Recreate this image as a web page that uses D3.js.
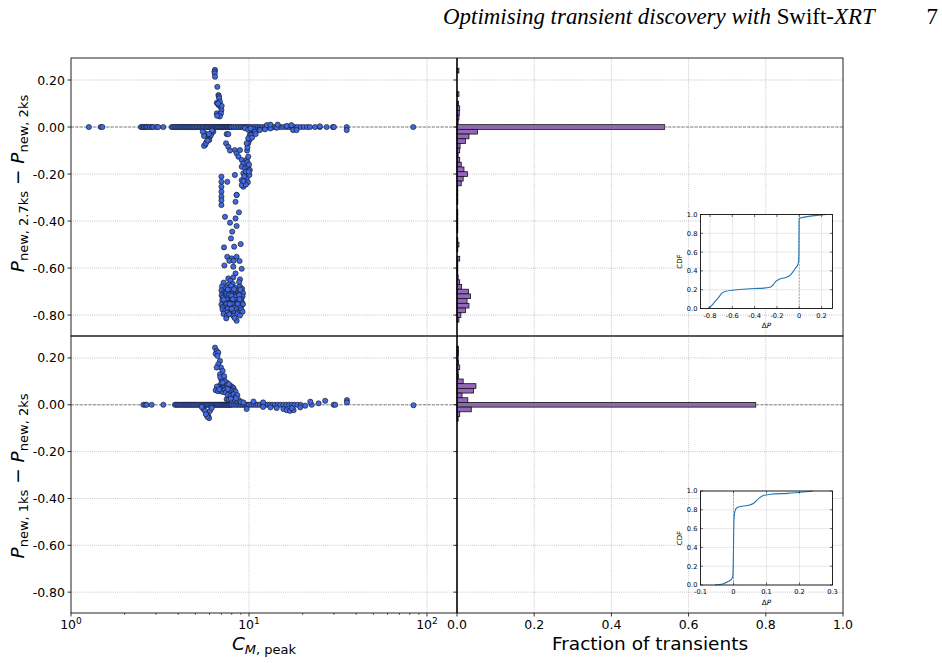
<!DOCTYPE html>
<html><head><meta charset="utf-8">
<script src="https://cdn.jsdelivr.net/npm/d3@7"></script>
<style>
body{margin:0;background:#fff}
svg{display:block}
text{font-family:"DejaVu Sans",sans-serif;fill:#000}
</style>
</head><body>
<svg id="c" width="942" height="663"></svg>
<script>
// ---------------- DATA ----------------
// Panel A: P_new,2.7ks - P_new,2ks ; Panel B: P_new,1ks - P_new,2ks
// Peak count rates of sources lying on ΔP = 0
const topZeroC = [1.26,1.47,1.50,2.47,2.52,2.57,2.62,2.66,2.72,2.78,2.85,2.90,3.02,3.09,3.30,
 3.68,3.75,3.82,3.9,3.98,4.05,4.12,4.2,4.28,4.35,4.43,4.5,4.58,4.66,4.75,4.83,4.92,5.0,5.1,5.2,5.3,5.4,5.5,5.6,5.7,5.8,5.9,
 6.0,6.1,6.2,6.3,6.4,6.5,6.6,6.7,6.8,6.9,7.0,7.1,7.2,7.3,7.4,7.5,7.6,7.7,7.8,7.9,8.0,8.2,8.4,8.6,8.8,9.0,9.2,9.4,9.6,9.8,
 10.0,10.3,10.6,10.9,11.2,11.5,11.9,12.3,12.7,13.1,13.5,14.0,14.5,15.0,15.6,16.2,16.8,17.4,18.0,18.7,19.5,20.3,21.2,22.0,
 23.5,25.0,27.3,29.6,30.0,35.4,83.7];
// [C_peak, ΔP] for the other sources
const topPoints = [
 [6.44,0.243],[6.40,0.236],[6.42,0.228],[6.44,0.214],[6.64,0.171],[6.73,0.136],[6.78,0.13],[6.80,0.122],[6.59,0.103],
 [6.87,0.108],[6.73,0.094],[6.92,0.086],[7.0,0.072],[6.59,0.058],[6.80,0.051],[6.96,0.058],[6.85,0.045],[6.62,0.048],[7.02,0.09],[6.7,0.1],
 [5.66,-0.027],[5.59,-0.038],[5.9,-0.048],[5.78,-0.063],[5.66,-0.077],[6.03,-0.041],[6.16,-0.027],[5.98,-0.055],[6.30,-0.02],
 [5.59,-0.08],[5.72,-0.07],[5.85,-0.058],[6.1,-0.035],[6.2,-0.015],[5.5,-0.02],[5.95,-0.03],
 [7.49,-0.030],[7.65,-0.030],[7.43,-0.069],[7.65,-0.084],[7.82,-0.10],[8.33,-0.098],[8.52,-0.112],[8.9,-0.098],[8.72,-0.126],
 [9.1,-0.14],[9.29,-0.155],[9.70,-0.14],[9.9,-0.126],[9.1,-0.169],[9.5,-0.176],[9.9,-0.169],[9.29,-0.197],[9.7,-0.204],
 [9.1,-0.226],[9.5,-0.233],[9.29,-0.254],[9.1,-0.247],[9.7,-0.218],[10.05,-0.204],[10.1,-0.183],[8.33,-0.204],[8.52,-0.289],
 [7.0,-0.211],[7.0,-0.233],[7.0,-0.254],[7.0,-0.275],[7.0,-0.296],[7.55,-0.233],[9.6,-0.19],[9.8,-0.15],[9.4,-0.21],
 [9.85,-0.235],[9.6,-0.245],[9.3,-0.23],[9.95,-0.19],[10.0,-0.16],[9.75,-0.1],
 [10.3,-0.02],[10.1,-0.034],[10.05,-0.055],[9.9,-0.069],[10.6,-0.027],[11.0,-0.014],[11.5,-0.01],[10.6,-0.01],[9.8,-0.087],
 [9.7,-0.069],[9.9,-0.048],[10.3,-0.034],[10.8,-0.020],[11.5,-0.013],[12.3,-0.01],[13.2,-0.006],[14.3,-0.003],[12.6,0.008],
 [13.2,0.01],[14.5,0.01],[16.3,0.005],[17.3,0.008],[17.7,-0.013],[18.5,-0.013],[25,0.003],[35.4,-0.013],[9.5,-0.005],
 [9.9,-0.012],[10.2,-0.006],[10.4,-0.045],[10.9,-0.03],
 [7.0,-0.312],[7.0,-0.332],[8.52,-0.289],[8.4,-0.318],[7.33,-0.382],[7.82,-0.407],[8.4,-0.389],[8.78,-0.363],[8.52,-0.421],
 [8.05,-0.445],[7.92,-0.474],[8.98,-0.498],[8.25,-0.509],[7.24,-0.512],[7.55,-0.552],[8.0,-0.559],[8.52,-0.552],[7.75,-0.569],
 [8.2,-0.569],[8.85,-0.570],[7.27,-0.589],[8.16,-0.594],[9.1,-0.603],[8.4,-0.623],[7.65,-0.644],[8.16,-0.64],[8.9,-0.648],[7.87,-0.654],
 [7.2,-0.662],[8.1,-0.667],[8.8,-0.66],[7.7,-0.67],
 [7.05,-0.678],[7.5,-0.683],[7.95,-0.676],[8.45,-0.685],[8.9,-0.679],[9.15,-0.688],[7.3,-0.69],
 [7.0,-0.695],[7.25,-0.703],[7.5,-0.698],[7.7,-0.706],[7.9,-0.694],[8.15,-0.701],[8.35,-0.709],[8.6,-0.697],[8.8,-0.704],
 [9.05,-0.699],[9.25,-0.707],[7.1,-0.711],[7.6,-0.692],[8.0,-0.712],[8.5,-0.713],[8.95,-0.692],[7.4,-0.71],[8.25,-0.69],
 [7.02,-0.716],[7.2,-0.724],[7.45,-0.718],[7.62,-0.728],[7.85,-0.72],[8.05,-0.726],[8.3,-0.717],[8.5,-0.729],[8.7,-0.719],
 [8.92,-0.727],[9.2,-0.72],[7.3,-0.73],[7.75,-0.714],[8.15,-0.731],[8.6,-0.722],[9.05,-0.731],[7.5,-0.729],[8.4,-0.723],
 [7.95,-0.718],[8.8,-0.715],[7.12,-0.726],
 [7.08,-0.737],[7.35,-0.742],[7.55,-0.735],[7.8,-0.745],[8.0,-0.738],[8.25,-0.748],[8.45,-0.736],[8.7,-0.744],[8.95,-0.739],
 [9.15,-0.747],[7.65,-0.749],[8.1,-0.733],[8.55,-0.749],[7.2,-0.734],[8.85,-0.733],[7.9,-0.75],
 [7.0,-0.755],[7.25,-0.762],[7.45,-0.754],[7.7,-0.766],[7.9,-0.757],[8.12,-0.765],[8.35,-0.756],[8.55,-0.768],[8.8,-0.758],
 [9.0,-0.766],[9.25,-0.754],[7.55,-0.769],[8.0,-0.752],[8.65,-0.753],[7.35,-0.768],[8.25,-0.769],[8.9,-0.769],[7.8,-0.753],[7.1,-0.767],
 [7.1,-0.776],[7.35,-0.782],[7.6,-0.774],[7.85,-0.786],[8.1,-0.778],[8.3,-0.787],[8.55,-0.775],[8.8,-0.783],[9.05,-0.777],
 [7.5,-0.789],[8.0,-0.773],[8.65,-0.789],[9.2,-0.786],
 [7.2,-0.795],[7.5,-0.803],[7.75,-0.797],[8.2,-0.804],[8.6,-0.796],[8.9,-0.802],
 [7.45,-0.814],[8.52,-0.824],[8.3,-0.812]
];
const botZeroC = [2.55,2.62,2.66,2.84,3.30,
 3.84,3.9,3.98,4.05,4.12,4.2,4.28,4.35,4.43,4.5,4.58,4.66,4.75,4.83,4.92,5.0,5.1,5.2,5.3,5.4,5.5,5.6,5.7,5.8,5.9,
 6.0,6.1,6.2,6.3,6.4,6.5,6.6,6.7,6.8,6.9,7.0,7.1,7.2,7.3,7.4,7.5,7.6,7.7,7.8,7.9,8.0,8.2,8.4,8.6,8.8,9.0,9.2,9.4,9.6,9.8,
 10.0,10.3,10.6,10.9,11.2,11.5,11.9,12.3,12.7,13.1,13.5,14.0,14.5,15.0,15.6,16.2,16.8,17.4,18.0,18.7,19.5,
 22.5,29.9,30.5];
const botPoints = [
 [6.44,0.244],[6.58,0.23],[6.5,0.218],[6.72,0.223],[6.65,0.209],[6.87,0.187],[6.72,0.173],[6.96,0.159],[6.58,0.159],
 [7.11,0.145],[6.87,0.13],[7.23,0.116],[7.02,0.102],[7.49,0.095],[7.33,0.081],[7.82,0.074],[6.58,0.067],[6.87,0.06],
 [7.17,0.06],[7.65,0.052],[7.99,0.06],[8.34,0.052],[8.17,0.038],[7.82,0.031],[7.49,0.024],[8.52,0.024],
 [6.9,0.085],[7.05,0.078],[7.2,0.088],[7.35,0.08],[7.5,0.084],[7.65,0.076],[7.8,0.082],[7.95,0.079],[8.1,0.074],
 [6.75,0.075],[7.15,0.072],[7.45,0.071],[7.7,0.088],[8.2,0.07],[6.6,0.078],
 [6.5,0.062],[6.7,0.058],[6.95,0.065],[7.1,0.055],[7.3,0.063],[7.55,0.057],[7.75,0.064],[7.9,0.055],[8.05,0.061],
 [8.25,0.058],[8.4,0.056],[7.4,0.052],[7.6,0.067],[6.8,0.066],
 [7.6,0.042],[7.9,0.038],[8.2,0.045],[8.45,0.036],[8.6,0.041],
 [7.7,0.022],[8.0,0.018],[8.3,0.02],[8.6,0.015],[8.8,0.019],[9.0,0.012],[8.45,0.028],[9.3,0.01],[7.9,0.026],
 [7.0,0.11],[7.3,0.1],[7.1,0.095],[6.9,0.118],[7.25,0.122],
 [10.6,0.014],[12.0,0.01],[22.1,0.013],[24.6,0.006],[26.8,0.017],[35.5,0.02],[35.5,0.01],
 [5.54,-0.018],[5.78,-0.033],[5.9,-0.047],[5.97,-0.057],[5.66,-0.026],[6.04,-0.026],[5.42,-0.009],[5.83,-0.051],
 [6.17,-0.014],[5.72,-0.04],
 [9.7,-0.018],[14.3,-0.014],[15.6,-0.018],[16.3,-0.023],[17.0,-0.026],[17.8,-0.023],[17.4,-0.014],[19.4,-0.011],
 [20.7,-0.004],[13.2,-0.011],[12.0,-0.009],[84.0,-0.002]
];
// Histograms: bin centres (bin width 0.02) and fraction of transients
const topHistCenters = [0.24,0.14,0.10,0.08,0.06,0.04,0.02,0.00,-0.02,-0.04,-0.06,-0.08,-0.10,-0.12,-0.14,-0.16,-0.18,-0.20,
 -0.22,-0.24,-0.26,-0.28,-0.30,-0.32,-0.36,-0.38,-0.40,-0.42,-0.44,-0.48,-0.50,-0.52,-0.56,-0.58,-0.60,-0.62,-0.64,
 -0.66,-0.68,-0.70,-0.72,-0.74,-0.76,-0.78,-0.80,-0.82];
const topHistFrac = [0.005,0.005,0.004,0.007,0.006,0.005,0.003,0.538,0.053,0.031,0.022,0.008,0.007,0.003,0.007,0.011,0.018,0.027,
 0.016,0.011,0.002,0.002,0.002,0.002,0.002,0.002,0.002,0.002,0.002,0.002,0.005,0.002,0.007,0.002,0.002,0.002,0.003,
 0.007,0.012,0.030,0.035,0.026,0.031,0.022,0.010,0.005];
const botHistCenters = [0.24,0.22,0.20,0.18,0.16,0.14,0.12,0.10,0.08,0.06,0.04,0.02,0.00,-0.02,-0.04,-0.06];
const botHistFrac = [0.004,0.004,0.003,0.004,0.007,0.003,0.004,0.016,0.049,0.043,0.013,0.028,0.774,0.037,0.007,0.003];
// Inset CDFs [ΔP, CDF]
const topCdf = [[-0.82,0.0],[-0.79,0.025],[-0.745,0.089],[-0.715,0.13],[-0.69,0.167],[-0.66,0.183],[-0.6,0.194],[-0.5,0.205],
 [-0.4,0.212],[-0.3,0.219],[-0.26,0.226],[-0.235,0.25],[-0.21,0.288],[-0.18,0.31],[-0.15,0.322],[-0.12,0.33],[-0.08,0.355],
 [-0.05,0.4],[-0.03,0.435],[-0.015,0.46],[-0.006,0.5],[-0.003,0.6],[-0.0015,0.9],[0.0,0.957],[0.01,0.963],[0.06,0.975],
 [0.1,0.983],[0.16,0.99],[0.24,1.0]];
const botCdf = [[-0.056,0.0],[-0.03,0.014],[-0.015,0.039],[-0.006,0.062],[-0.002,0.1],[-0.001,0.2],[0.0,0.4],[0.001,0.65],
 [0.003,0.76],[0.007,0.81],[0.015,0.83],[0.031,0.84],[0.046,0.848],[0.061,0.87],[0.077,0.922],[0.092,0.954],[0.112,0.965],
 [0.163,0.975],[0.204,0.986],[0.24,1.0]];
const yTicks = [0.2,0.0,-0.2,-0.4,-0.6,-0.8];
const histXTicks = [0.0,0.2,0.4,0.6,0.8,1.0];
const logMajor = [1,10,100];
const topInsetXTicks = [-0.8,-0.6,-0.4,-0.2,0,0.2];
const botInsetXTicks = [-0.1,0,0.1,0.2,0.3];
const cdfYTicks = [0,0.2,0.4,0.6,0.8,1.0];

// ---------------- DRAWING ----------------
const svg = d3.select('#c');
const SX0 = 71, SX1 = 457, HX1 = 843;
const xS = d3.scaleLog().domain([1, 147.4]).range([SX0, SX1]);
const xH = d3.scaleLinear().domain([0, 1]).range([SX1, HX1]);
const GRID = '#a8a8a8';

const panels = [
  {y0:58, y1:336, zero:topZeroC, pts:topPoints, hc:topHistCenters, hf:topHistFrac, lab:'2.7ks', labY:183.5,
   inset:{x0:700.5,x1:832.5,y0:214.5,y1:308.5, dom:[-0.885,0.298], ticks:topInsetXTicks, cdf:topCdf}},
  {y0:336, y1:613, zero:botZeroC, pts:botPoints, hc:botHistCenters, hf:botHistFrac, lab:'1ks', labY:476,
   inset:{x0:700.5,x1:832.5,y0:491,y1:585, dom:[-0.1,0.3], ticks:botInsetXTicks, cdf:botCdf}}
];

panels.forEach((p, pi) => {
  const y = d3.scaleLinear().domain([-0.889, 0.2936]).range([p.y1, p.y0]);
  const g = svg.append('g');
  // grid
  yTicks.forEach(t => {
    g.append('line').attr('x1', SX0).attr('x2', HX1).attr('y1', y(t)).attr('y2', y(t))
      .attr('stroke', GRID).attr('stroke-width', 0.8).attr('stroke-dasharray', '0.8,1.3');
  });
  [10, 100].forEach(t => {
    g.append('line').attr('x1', xS(t)).attr('x2', xS(t)).attr('y1', p.y0).attr('y2', p.y1)
      .attr('stroke', GRID).attr('stroke-width', 0.8).attr('stroke-dasharray', '0.8,1.3');
  });
  [0.2, 0.4, 0.6, 0.8].forEach(t => {
    g.append('line').attr('x1', xH(t)).attr('x2', xH(t)).attr('y1', p.y0).attr('y2', p.y1)
      .attr('stroke', GRID).attr('stroke-width', 0.8).attr('stroke-dasharray', '0.8,1.3');
  });
  // zero dashed line (scatter)
  g.append('line').attr('x1', SX0).attr('x2', SX1).attr('y1', y(0)).attr('y2', y(0))
    .attr('stroke', '#777').attr('stroke-width', 0.9).attr('stroke-dasharray', '3,1.4');
  // scatter
  const allPts = p.zero.map(c => [c, 0]).concat(p.pts);
  g.append('g').selectAll('circle').data(allPts).join('circle')
    .attr('cx', d => xS(d[0])).attr('cy', d => y(d[1])).attr('r', 2.6)
    .attr('fill', '#4169e1').attr('stroke', '#111').attr('stroke-width', 0.6);
  // histogram
  const hd = p.hc.map((c, i) => [c, p.hf[i]]);
  g.append('g').selectAll('rect').data(hd).join('rect')
    .attr('x', xH(0)).attr('y', d => y(d[0] + 0.01))
    .attr('width', d => xH(d[1]) - xH(0)).attr('height', d => y(d[0] - 0.01) - y(d[0] + 0.01))
    .attr('fill', '#9467bd').attr('stroke', '#111').attr('stroke-width', 0.8);
  // zero dashed line (hist)
  g.append('line').attr('x1', SX1).attr('x2', HX1).attr('y1', y(0)).attr('y2', y(0))
    .attr('stroke', '#777').attr('stroke-width', 0.9).attr('stroke-dasharray', '3,1.4');
  // frames
  g.append('rect').attr('x', SX0).attr('y', p.y0).attr('width', HX1 - SX0).attr('height', p.y1 - p.y0)
    .attr('fill', 'none').attr('stroke', '#222').attr('stroke-width', 1);
  g.append('line').attr('x1', SX1).attr('x2', SX1).attr('y1', p.y0).attr('y2', p.y1)
    .attr('stroke', '#000').attr('stroke-width', 1.6);
  // y axis ticks & labels
  yTicks.forEach(t => {
    g.append('line').attr('x1', SX0 - 3.5).attr('x2', SX0).attr('y1', y(t)).attr('y2', y(t)).attr('stroke', '#000').attr('stroke-width', 0.8);
    g.append('line').attr('x1', SX1 - 3.5).attr('x2', SX1).attr('y1', y(t)).attr('y2', y(t)).attr('stroke', '#000').attr('stroke-width', 0.8);
    g.append('text').attr('x', SX0 - 6).attr('y', y(t)).attr('dy', '0.36em').attr('text-anchor', 'end')
      .attr('font-size', 12.5).text(t.toFixed(2));
  });
  // y label
  const lab = g.append('text').attr('transform', `translate(24,${p.labY}) rotate(-90)`)
    .attr('text-anchor', 'middle').attr('font-size', 18.5);
  lab.append('tspan').attr('font-style', 'italic').text('P');
  lab.append('tspan').attr('font-size', 13).attr('dy', 4).text('new, ' + p.lab);
  lab.append('tspan').attr('dy', -4).text(' − ');
  lab.append('tspan').attr('font-style', 'italic').text('P');
  lab.append('tspan').attr('font-size', 13).attr('dy', 4).text('new, 2ks');

  // inset
  const ins = p.inset;
  const ix = d3.scaleLinear().domain(ins.dom).range([ins.x0, ins.x1]);
  const iy = d3.scaleLinear().domain([0, 1]).range([ins.y1, ins.y0]);
  const ig = svg.append('g');
  ig.append('rect').attr('x', ins.x0).attr('y', ins.y0).attr('width', ins.x1 - ins.x0).attr('height', ins.y1 - ins.y0)
    .attr('fill', '#fff');
  ins.ticks.forEach(t => {
    ig.append('line').attr('x1', ix(t)).attr('x2', ix(t)).attr('y1', ins.y0).attr('y2', ins.y1)
      .attr('stroke', '#d6d6d6').attr('stroke-width', 0.6);
  });
  cdfYTicks.forEach(t => {
    ig.append('line').attr('x1', ins.x0).attr('x2', ins.x1).attr('y1', iy(t)).attr('y2', iy(t))
      .attr('stroke', '#d6d6d6').attr('stroke-width', 0.6);
  });
  ig.append('line').attr('x1', ix(0)).attr('x2', ix(0)).attr('y1', ins.y0).attr('y2', ins.y1)
    .attr('stroke', '#888').attr('stroke-width', 0.7).attr('stroke-dasharray', '2,1.3');
  ig.append('path').datum(ins.cdf)
    .attr('d', d3.line().x(d => ix(d[0])).y(d => iy(d[1])).curve(d3.curveMonotoneX))
    .attr('fill', 'none').attr('stroke', '#1f77b4').attr('stroke-width', 1.1);
  ig.append('rect').attr('x', ins.x0).attr('y', ins.y0).attr('width', ins.x1 - ins.x0).attr('height', ins.y1 - ins.y0)
    .attr('fill', 'none').attr('stroke', '#111').attr('stroke-width', 0.9);
  ins.ticks.forEach(t => {
    ig.append('line').attr('x1', ix(t)).attr('x2', ix(t)).attr('y1', ins.y1).attr('y2', ins.y1 - 2.5).attr('stroke', '#111').attr('stroke-width', 0.6);
    ig.append('line').attr('x1', ix(t)).attr('x2', ix(t)).attr('y1', ins.y0).attr('y2', ins.y0 + 2.5).attr('stroke', '#111').attr('stroke-width', 0.6);
    ig.append('text').attr('x', ix(t)).attr('y', ins.y1 + 9).attr('text-anchor', 'middle').attr('font-size', 6.7)
      .attr('fill', '#222').text(t === 0 ? '0' : String(t));
  });
  cdfYTicks.forEach(t => {
    ig.append('line').attr('x1', ins.x0).attr('x2', ins.x0 + 2.5).attr('y1', iy(t)).attr('y2', iy(t)).attr('stroke', '#111').attr('stroke-width', 0.6);
    ig.append('line').attr('x1', ins.x1).attr('x2', ins.x1 - 2.5).attr('y1', iy(t)).attr('y2', iy(t)).attr('stroke', '#111').attr('stroke-width', 0.6);
    ig.append('text').attr('x', ins.x0 - 3).attr('y', iy(t)).attr('dy', '0.36em').attr('text-anchor', 'end').attr('font-size', 6.7)
      .attr('fill', '#222').text(t.toFixed(1));
  });
  ig.append('text').attr('transform', `translate(681.5,${(ins.y0 + ins.y1) / 2}) rotate(-90)`)
    .attr('text-anchor', 'middle').attr('font-size', 7).attr('fill', '#222').text('CDF');
  const dl = ig.append('text').attr('x', (ins.x0 + ins.x1) / 2).attr('y', ins.y1 + 19.5).attr('text-anchor', 'middle')
    .attr('font-size', 7.2).attr('fill', '#222');
  dl.append('tspan').text('Δ');
  dl.append('tspan').attr('font-style', 'italic').text('P');
});

// bottom x axes
const yB = 613;
logMajor.forEach(t => {
  svg.append('line').attr('x1', xS(t)).attr('x2', xS(t)).attr('y1', yB).attr('y2', yB + 3.5).attr('stroke', '#000').attr('stroke-width', 0.8);
  const tx = svg.append('text').attr('x', xS(t)).attr('y', 629).attr('text-anchor', 'middle').attr('font-size', 12.5);
  tx.append('tspan').text('10');
  tx.append('tspan').attr('font-size', 9).attr('dy', -5).text(String(Math.round(Math.log10(t))));
});
[2,3,4,5,6,7,8,9,20,30,40,50,60,70,80,90].forEach(t => {
  svg.append('line').attr('x1', xS(t)).attr('x2', xS(t)).attr('y1', yB).attr('y2', yB + 2).attr('stroke', '#000').attr('stroke-width', 0.6);
});
histXTicks.forEach(t => {
  svg.append('line').attr('x1', xH(t)).attr('x2', xH(t)).attr('y1', yB).attr('y2', yB + 3.5).attr('stroke', '#000').attr('stroke-width', 0.8);
  svg.append('text').attr('x', xH(t)).attr('y', 629).attr('text-anchor', 'middle').attr('font-size', 12.5).text(t.toFixed(1));
});
const xl = svg.append('text').attr('x', (SX0 + SX1) / 2).attr('y', 650).attr('text-anchor', 'middle').attr('font-size', 18.5);
xl.append('tspan').attr('font-style', 'italic').text('C');
xl.append('tspan').attr('font-size', 13).attr('dy', 4).attr('font-style', 'italic').text('M');
xl.append('tspan').attr('font-size', 13).text(', peak');
svg.append('text').attr('x', (SX1 + HX1) / 2).attr('y', 650).attr('text-anchor', 'middle').attr('font-size', 18.5)
  .text('Fraction of transients');

// running header (font size fitted so the line spans x = 443 … 875)
const SERIF = '"Liberation Serif", "Times New Roman", serif';
const hdr = svg.append('text').attr('x', 443).attr('y', 24)
  .style('font-family', SERIF).attr('font-size', 20);
hdr.append('tspan').attr('font-style', 'italic').text('Optimising transient discovery with ');
hdr.append('tspan').text('Swift-');
hdr.append('tspan').attr('font-style', 'italic').text('XRT');
const w = hdr.node().getComputedTextLength();
const fs = 20 * 432 / w;
hdr.attr('font-size', fs);
svg.append('text').attr('x', 938).attr('y', 24).attr('text-anchor', 'end')
  .style('font-family', SERIF).attr('font-size', fs).text('7');
</script>
</body></html>
